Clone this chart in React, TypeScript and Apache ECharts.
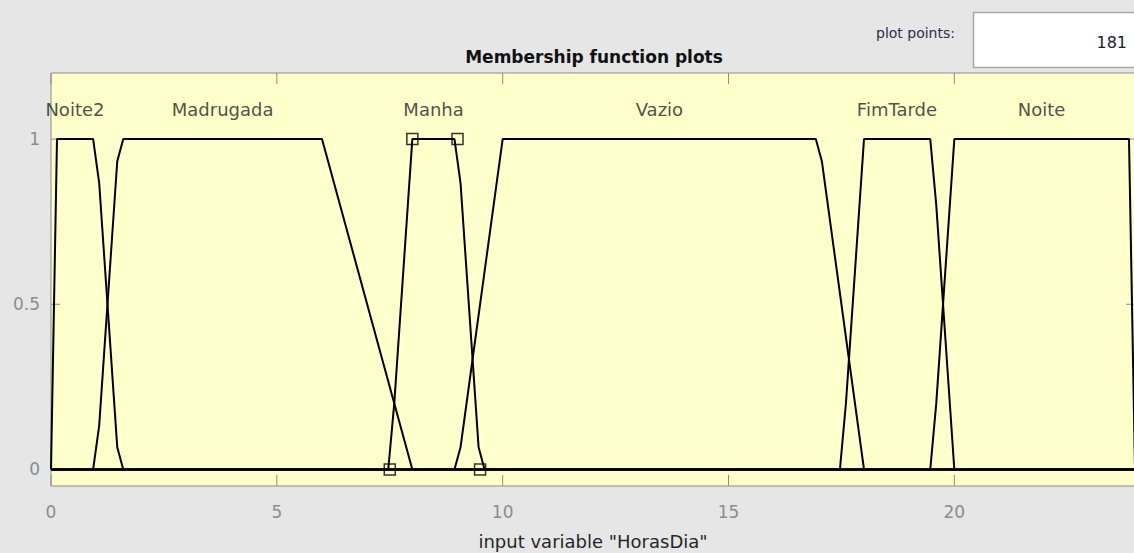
import React, { useEffect, useRef } from "react";
import * as echarts from "echarts";

// ---- data ----
const xTicks = [0, 5, 10, 15, 20];
const yTicks = [0, 0.5, 1];
const xRange = [0, 24];
const yRange = [-0.05, 1.2];

const mfNames = ["Noite2", "Madrugada", "Manha", "Vazio", "FimTarde", "Noite"];
const noite2 = [[0, 0], [0.133, 1], [0.933, 1], [1.067, 0.867], [1.467, 0.067], [1.6, 0], [24, 0]];
const madrugada = [[0, 0], [0.933, 0], [1.067, 0.133], [1.467, 0.933], [1.6, 1], [6, 1], [8, 0], [24, 0]];
const manha = [[0, 0], [7.467, 0], [7.6, 0.2], [8, 1], [8.933, 1], [9.067, 0.867], [9.467, 0.067], [9.6, 0], [24, 0]];
const vazio = [[0, 0], [8.933, 0], [9.067, 0.067], [10, 1], [16.933, 1], [17.067, 0.933], [18, 0], [24, 0]];
const fimTarde = [[0, 0], [17.467, 0], [17.6, 0.2], [18, 1], [19.467, 1], [19.6, 0.8], [20, 0], [24, 0]];
const noite = [[0, 0], [19.467, 0], [19.6, 0.2], [20, 1], [23.867, 1], [24, 0]];
const mfCurves = [noite2, madrugada, manha, vazio, fimTarde, noite];

const labelX = [0.53, 3.8, 8.47, 13.47, 18.73, 21.93];
const labelY = 1.09;
const manhaParams = [[7.5, 0], [8, 1], [9, 1], [9.5, 0]];

const titleText = "Membership function plots";
const xAxisName = 'input variable "HorasDia"';
const plotPointsLabel = "plot points:";
const plotPointsValue = "181";

const FONT = "DejaVu Sans";
const AXIS_GRAY = "#8c8c8c";
const X_TICK_LEN = 11;
const Y_TICK_LEN = 9;

export default function App() {
  const ref = useRef<HTMLDivElement>(null);

  useEffect(() => {
    if (!ref.current) return;
    const chart = echarts.init(ref.current, undefined, { renderer: "svg" });

    const lineSeries = mfCurves.map((d, i) => ({
      type: "line",
      name: mfNames[i],
      data: d,
      symbol: "none",
      showSymbol: false,
      silent: true,
      lineStyle: { color: "#000", width: 2 },
      z: 3,
    }));

    const tickLine = (x1: number, y1: number, x2: number, y2: number) => ({
      type: "line",
      shape: { x1, y1, x2, y2 },
      style: { stroke: AXIS_GRAY, lineWidth: 1 },
    });

    const option: any = {
      animation: false,
      backgroundColor: "#e6e6e6",
      textStyle: { fontFamily: FONT },
      grid: {
        left: 51,
        right: -1,
        top: 73,
        bottom: 67,
        outerBoundsMode: "none",
        containLabel: false,
        show: true,
        backgroundColor: "#ffffcc",
        borderColor: AXIS_GRAY,
        borderWidth: 1,
      },
      xAxis: {
        type: "value",
        min: xRange[0],
        max: xRange[1],
        interval: 5,
        position: "bottom",
        name: xAxisName,
        nameLocation: "middle",
        nameGap: 46,
        nameTextStyle: { color: "#262626", fontSize: 18, fontFamily: FONT },
        axisLine: { show: false, onZero: false },
        splitLine: { show: false },
        axisTick: { show: false },
        axisLabel: {
          color: AXIS_GRAY,
          fontSize: 17,
          fontFamily: FONT,
          margin: 17,
          customValues: xTicks,
        },
      },
      yAxis: {
        type: "value",
        min: yRange[0],
        max: yRange[1],
        position: "left",
        axisLine: { show: false, onZero: false },
        splitLine: { show: false },
        axisTick: { show: false },
        axisLabel: {
          color: AXIS_GRAY,
          fontSize: 17,
          fontFamily: FONT,
          margin: 11,
          customValues: yTicks,
        },
      },
      series: [
        {
          type: "custom",
          name: "xticks",
          silent: true,
          clip: false,
          data: xTicks.map((v) => [v, yRange[0]]),
          renderItem: (params: any, api: any) => {
            const x = api.value(0);
            const b = api.coord([x, yRange[0]]);
            const t = api.coord([x, yRange[1]]);
            return {
              type: "group",
              children: [
                tickLine(b[0], b[1], b[0], b[1] - X_TICK_LEN),
                tickLine(t[0], t[1], t[0], t[1] + X_TICK_LEN),
              ],
            };
          },
          z: 2,
        },
        {
          type: "custom",
          name: "yticks",
          silent: true,
          clip: false,
          data: yTicks.map((v) => [xRange[0], v]),
          renderItem: (params: any, api: any) => {
            const y = api.value(1);
            const l = api.coord([xRange[0], y]);
            const r = api.coord([xRange[1], y]);
            return {
              type: "group",
              children: [
                tickLine(l[0], l[1], l[0] + Y_TICK_LEN, l[1]),
                tickLine(r[0], r[1], r[0] - Y_TICK_LEN, r[1]),
              ],
            };
          },
          z: 2,
        },
        ...lineSeries,
        {
          type: "scatter",
          name: "params",
          data: manhaParams,
          symbol: "rect",
          symbolSize: 11,
          silent: true,
          itemStyle: { color: "rgba(0,0,0,0)", borderColor: "#000", borderWidth: 1.5 },
          z: 4,
        },
        {
          type: "scatter",
          name: "labels",
          data: labelX.map((x, i) => ({ value: [x, labelY], name: mfNames[i] })),
          symbolSize: 2,
          silent: true,
          itemStyle: { color: "rgba(0,0,0,0)" },
          label: {
            show: true,
            position: "inside",
            formatter: "{b}",
            color: "#222",
            fontSize: 18,
            fontFamily: FONT,
          },
          z: 5,
        },
      ],
      graphic: [
        {
          type: "text",
          x: 594,
          y: 57,
          style: {
            text: titleText,
            fill: "#111",
            font: `bold 17px "${FONT}"`,
            textAlign: "center",
            textVerticalAlign: "middle",
          },
        },
        {
          type: "text",
          x: 955,
          y: 33,
          style: {
            text: plotPointsLabel,
            fill: "#2a2f4a",
            font: `14px "${FONT}"`,
            textAlign: "right",
            textVerticalAlign: "middle",
          },
        },
        {
          type: "rect",
          shape: { x: 973.5, y: 12.5, width: 200, height: 55 },
          style: { fill: "#ffffff", stroke: "#a8a8a8", lineWidth: 1.5 },
        },
        {
          type: "text",
          x: 1127,
          y: 42,
          style: {
            text: plotPointsValue,
            fill: "#1a1a2e",
            font: `16px "${FONT}"`,
            textAlign: "right",
            textVerticalAlign: "middle",
          },
        },
      ],
    };

    chart.setOption(option);
    return () => chart.dispose();
  }, []);

  return (
    <div
      ref={ref}
      style={{ position: "fixed", left: 0, top: 0, width: 1134, height: 553 }}
    />
  );
}
